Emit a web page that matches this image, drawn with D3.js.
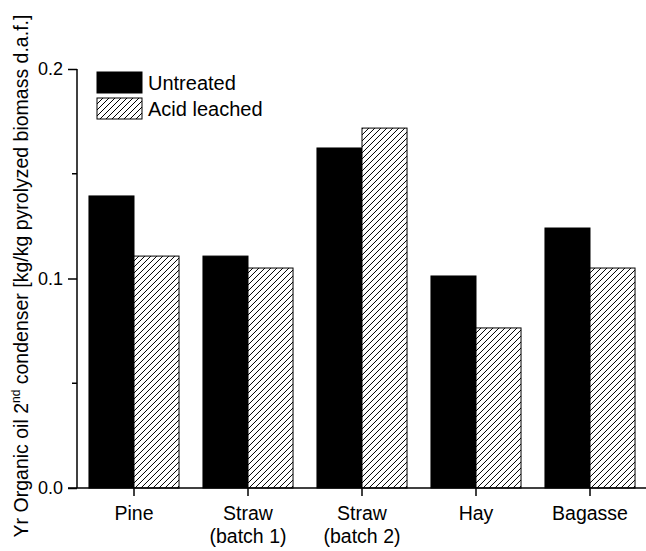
<!DOCTYPE html>
<html>
<head>
<meta charset="utf-8">
<script src="https://cdn.jsdelivr.net/npm/d3@7"></script>
<style>
  body { margin: 0; background: #fff; }
  svg { display: block; font-family: Arial, "Liberation Sans", sans-serif; }
</style>
</head>
<body>
<svg id="chart" width="646" height="551"></svg>
<script>
const categories = ["Pine", "Straw\n(batch 1)", "Straw\n(batch 2)", "Hay", "Bagasse"];
const series = ["Untreated", "Acid leached"];
const untreated = [0.1394, 0.1107, 0.1623, 0.1012, 0.1241];
const acidLeached = [0.1107, 0.1050, 0.1718, 0.0764, 0.1050];
const yTicks = [0.0, 0.1, 0.2];
const yMinorTicks = [0.05, 0.15];

const svg = d3.select('#chart');
const plotLeft = 77, plotRight = 647, plotTop = 69, plotBottom = 488;

// hatch pattern for acid leached bars
const defs = svg.append('defs');
const pat = defs.append('pattern')
    .attr('id', 'hatch')
    .attr('patternUnits', 'userSpaceOnUse')
    .attr('width', 6)
    .attr('height', 6);
pat.append('rect').attr('width', 6).attr('height', 6).attr('fill', '#fff');
pat.append('path')
    .attr('d', 'M-1,1 l2,-2 M0,6 l6,-6 M5,7 l2,-2')
    .attr('stroke', '#000')
    .attr('stroke-width', 1);

const x0 = d3.scaleBand()
    .domain(categories)
    .range([plotLeft, plotRight])
    .paddingInner(0.21)
    .paddingOuter(0.105);

const x1 = d3.scaleBand()
    .domain(series)
    .range([0, x0.bandwidth()]);

const y = d3.scaleLinear().domain([0, 0.2]).range([plotBottom, plotTop]);

const rows = categories.map((c, i) => ({ cat: c, values: [untreated[i], acidLeached[i]] }));

const groups = svg.append('g')
    .selectAll('g')
    .data(rows)
    .enter().append('g')
    .attr('transform', d => `translate(${x0(d.cat)},0)`);

groups.selectAll('rect')
    .data(d => d.values.map((v, j) => ({ key: series[j], v })))
    .enter().append('rect')
    .attr('x', d => x1(d.key))
    .attr('y', d => y(d.v))
    .attr('width', x1.bandwidth())
    .attr('height', d => plotBottom - y(d.v))
    .attr('fill', d => d.key === 'Untreated' ? '#000' : 'url(#hatch)')
    .attr('stroke', '#000')
    .attr('stroke-width', 1);

// y axis
const yAxis = svg.append('g')
    .attr('transform', `translate(${plotLeft},0)`)
    .call(d3.axisLeft(y).tickValues(yTicks).tickFormat(d3.format('.1f')).tickSize(9).tickPadding(5));
yAxis.select('.domain').attr('d', `M0,${plotBottom}V${plotTop}`).attr('stroke-width', 1.5);
yAxis.selectAll('text').attr('font-size', 18).attr('font-family', 'Arial, "Liberation Sans", sans-serif').attr('fill', '#000');
yAxis.selectAll('.tick line').attr('stroke-width', 1.5);

svg.append('g')
    .selectAll('line')
    .data(yMinorTicks)
    .enter().append('line')
    .attr('x1', plotLeft - 5).attr('x2', plotLeft)
    .attr('y1', d => y(d)).attr('y2', d => y(d))
    .attr('stroke', '#000').attr('stroke-width', 1.5);

// x axis
const xAxis = svg.append('g')
    .attr('transform', `translate(0,${plotBottom})`)
    .call(d3.axisBottom(x0).tickSize(8).tickFormat(''));
xAxis.select('.domain').attr('d', `M${plotLeft - 9},0H${plotRight}`).attr('stroke-width', 1.5);
xAxis.selectAll('.tick line').attr('stroke-width', 1.5);

const xl = svg.append('g')
    .selectAll('text')
    .data(categories)
    .enter().append('text')
    .attr('x', d => x0(d) + x0.bandwidth() / 2)
    .attr('y', 520)
    .attr('text-anchor', 'middle')
    .attr('font-size', 19.5);
xl.each(function(d) {
    const t = d3.select(this);
    d.split('\n').forEach((line, i) => {
        t.append('tspan')
            .attr('x', x0(d) + x0.bandwidth() / 2)
            .attr('dy', i === 0 ? 0 : 23)
            .text(line);
    });
});

// y title
const title = svg.append('text')
    .attr('transform', 'translate(28,276) rotate(-90)')
    .attr('text-anchor', 'middle')
    .attr('font-size', 19.5);
title.append('tspan').text('Yr Organic oil 2');
title.append('tspan').attr('dy', -8).attr('font-size', 12).text('nd');
title.append('tspan').attr('dy', 8).text(' condenser [kg/kg pyrolyzed biomass d.a.f.]');

// legend
const legend = svg.append('g')
    .selectAll('g')
    .data(series)
    .enter().append('g')
    .attr('transform', (d, i) => `translate(97,${72 + i * 26})`);
legend.append('rect')
    .attr('width', 45).attr('height', 21)
    .attr('fill', d => d === 'Untreated' ? '#000' : 'url(#hatch)')
    .attr('stroke', '#000').attr('stroke-width', 1);
legend.append('text')
    .attr('x', 51).attr('y', 17.5)
    .attr('font-size', 20)
    .text(d => d);
</script>
</body>
</html>
